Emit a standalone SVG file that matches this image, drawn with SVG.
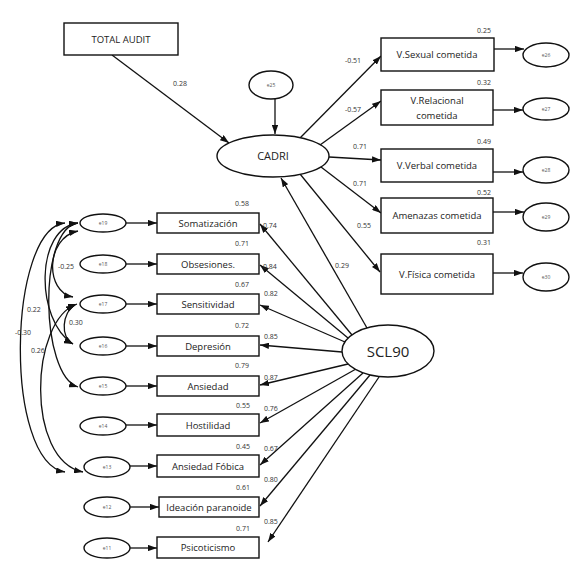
<svg xmlns="http://www.w3.org/2000/svg" width="580" height="568" viewBox="0 0 580 568">
<style>
text{font-family:"Open Sans","Liberation Sans",sans-serif;fill:#222}
.box{fill:#fff;stroke:#111;stroke-width:1.4}
.ell{fill:#fff;stroke:#111;stroke-width:1.4}
.lbl{font-size:9.5px;text-anchor:middle}
.big{font-size:11px;text-anchor:middle}
.scl{font-size:15px;text-anchor:middle}
.e{font-size:5px;text-anchor:middle;fill:#555}
.n{font-size:7px;fill:#333}
.nm{font-size:7px;fill:#333;text-anchor:middle}
.c line,.c path{stroke:#111;stroke-width:1.3;fill:none;marker-end:url(#ah)}
.c path.d{marker-start:url(#ah)}
</style>
<defs>
<marker id="ah" viewBox="0 0 10 7" refX="10" refY="3.5" markerWidth="9" markerHeight="6.3" markerUnits="userSpaceOnUse" orient="auto-start-reverse">
<path d="M0,0 L10,3.5 L0,7 z" fill="#111"/>
</marker>
</defs>

<g id="connectors" class="c">
<line x1="112" y1="55" x2="229" y2="143"/>
<line x1="275" y1="99" x2="275" y2="134"/>
<line x1="300" y1="138" x2="381" y2="56"/>
<line x1="320" y1="145" x2="381" y2="101"/>
<line x1="329" y1="157" x2="381" y2="160"/>
<line x1="321" y1="167" x2="381" y2="213"/>
<line x1="300" y1="174" x2="380" y2="272"/>
<line x1="494" y1="49" x2="524" y2="49"/>
<line x1="493" y1="110" x2="523" y2="110"/>
<line x1="493" y1="172" x2="523" y2="172"/>
<line x1="493" y1="212" x2="524" y2="212"/>
<line x1="493" y1="273" x2="523" y2="273"/>
<line x1="367" y1="328" x2="281" y2="178"/>
<line x1="352" y1="335" x2="260" y2="224"/>
<line x1="348" y1="338" x2="260" y2="265"/>
<line x1="345" y1="342" x2="260" y2="305"/>
<line x1="342" y1="352" x2="260" y2="345"/>
<line x1="348" y1="364" x2="260" y2="385"/>
<line x1="356" y1="369" x2="260" y2="423"/>
<line x1="363" y1="373" x2="260" y2="465"/>
<line x1="370" y1="375" x2="260" y2="506"/>
<line x1="379" y1="377" x2="268" y2="542"/>
<line x1="126" y1="223" x2="157" y2="223"/>
<line x1="126" y1="264" x2="157" y2="264"/>
<line x1="126" y1="304" x2="157" y2="304"/>
<line x1="126" y1="346" x2="157" y2="346"/>
<line x1="126" y1="386" x2="157" y2="386"/>
<line x1="126" y1="425" x2="157" y2="425"/>
<line x1="130" y1="466" x2="157" y2="466"/>
<line x1="130" y1="507" x2="159" y2="507"/>
<line x1="130" y1="548" x2="157" y2="548"/>
<path class="d" d="M65,223 C8,228 3,462 65,472"/>
<path class="d" d="M78,231 C45,238 45,292 73,297"/>
<path class="d" d="M78,223 C35,228 35,320 73,344"/>
<path class="d" d="M78,223 C38,228 40,375 78,387"/>
<path class="d" d="M75,305 C62,312 60,338 73,344"/>
<path class="d" d="M77,304 C30,320 25,460 83,472"/>
</g>

<g id="total_audit"><rect class="box" x="64" y="23" width="114" height="32"/><text class="lbl" x="121" y="43">TOTAL AUDIT</text></g>
<g id="e25"><ellipse class="ell" cx="271" cy="85" rx="22" ry="14"/><text class="e" x="271" y="87">e25</text></g>
<g id="cadri"><ellipse class="ell" cx="273" cy="156" rx="56" ry="21"/><text class="big" x="273" y="160">CADRI</text></g>
<g id="scl90"><ellipse class="ell" cx="388" cy="351" rx="46" ry="26"/><text class="scl" x="388" y="357">SCL90</text></g>

<g id="vsexual"><rect class="box" x="381" y="38" width="113" height="33"/><text class="lbl" x="437" y="58">V.Sexual cometida</text></g>
<g id="vrelacional"><rect class="box" x="381" y="90" width="112" height="35"/><text class="lbl" x="437" y="104">V.Relacional</text><text class="lbl" x="437" y="119">cometida</text></g>
<g id="vverbal"><rect class="box" x="381" y="149" width="112" height="33"/><text class="lbl" x="437" y="169">V.Verbal cometida</text></g>
<g id="amenazas"><rect class="box" x="381" y="198" width="112" height="35"/><text class="lbl" x="437" y="219">Amenazas cometida</text></g>
<g id="vfisica"><rect class="box" x="381" y="254" width="112" height="40"/><text class="lbl" x="437" y="278">V.Física cometida</text></g>

<g id="e26"><ellipse class="ell" cx="546" cy="55" rx="23" ry="12"/><text class="e" x="546" y="57">e26</text></g>
<g id="e27"><ellipse class="ell" cx="546" cy="109" rx="23" ry="11"/><text class="e" x="546" y="111">e27</text></g>
<g id="e28"><ellipse class="ell" cx="546" cy="170" rx="23" ry="13"/><text class="e" x="546" y="172">e28</text></g>
<g id="e29"><ellipse class="ell" cx="546" cy="217" rx="23" ry="14"/><text class="e" x="546" y="219">e29</text></g>
<g id="e30"><ellipse class="ell" cx="546" cy="277" rx="23" ry="14"/><text class="e" x="546" y="279">e30</text></g>

<g id="somatizacion"><rect class="box" x="157" y="213" width="102" height="20"/><text class="lbl" x="208" y="226.5">Somatización</text></g>
<g id="obsesiones"><rect class="box" x="157" y="254" width="102" height="20"/><text class="lbl" x="208" y="267.5">Obsesiones.</text></g>
<g id="sensitividad"><rect class="box" x="157" y="294" width="102" height="20"/><text class="lbl" x="208" y="307.5">Sensitividad</text></g>
<g id="depresion"><rect class="box" x="157" y="336" width="102" height="20"/><text class="lbl" x="208" y="349.5">Depresión</text></g>
<g id="ansiedad"><rect class="box" x="157" y="376" width="102" height="20"/><text class="lbl" x="208" y="389.5">Ansiedad</text></g>
<g id="hostilidad"><rect class="box" x="157" y="414" width="102" height="22"/><text class="lbl" x="208" y="428.5">Hostilidad</text></g>
<g id="ansiedad_fobica"><rect class="box" x="157" y="455" width="102" height="22"/><text class="lbl" x="208" y="469.5">Ansiedad Fóbica</text></g>
<g id="ideacion"><rect class="box" x="159" y="497" width="100" height="20"/><text class="lbl" x="209" y="510.5">Ideación paranoide</text></g>
<g id="psicoticismo"><rect class="box" x="157" y="537" width="102" height="21"/><text class="lbl" x="208" y="551">Psicoticismo</text></g>

<g id="e19"><ellipse class="ell" cx="103" cy="223" rx="23" ry="9"/><text class="e" x="103" y="225">e19</text></g>
<g id="e18"><ellipse class="ell" cx="103" cy="264" rx="23" ry="9"/><text class="e" x="103" y="266">e18</text></g>
<g id="e17"><ellipse class="ell" cx="103" cy="304" rx="23" ry="9"/><text class="e" x="103" y="306">e17</text></g>
<g id="e16"><ellipse class="ell" cx="103" cy="346" rx="23" ry="9"/><text class="e" x="103" y="348">e16</text></g>
<g id="e15"><ellipse class="ell" cx="103" cy="386" rx="23" ry="9"/><text class="e" x="103" y="388">e15</text></g>
<g id="e14"><ellipse class="ell" cx="103" cy="426" rx="23" ry="9"/><text class="e" x="103" y="428">e14</text></g>
<g id="e13"><ellipse class="ell" cx="107" cy="467" rx="23" ry="10"/><text class="e" x="107" y="469">e13</text></g>
<g id="e12"><ellipse class="ell" cx="107" cy="507" rx="23" ry="10"/><text class="e" x="107" y="509">e12</text></g>
<g id="e11"><ellipse class="ell" cx="107" cy="548" rx="23" ry="10"/><text class="e" x="107" y="550">e11</text></g>

<g id="labels">
<text class="nm" x="180" y="86">0.28</text>
<text class="nm" x="484" y="33">0.25</text>
<text class="nm" x="484" y="85">0.32</text>
<text class="nm" x="484" y="144">0.49</text>
<text class="nm" x="484" y="195">0.52</text>
<text class="nm" x="484" y="245">0.31</text>
<text class="nm" x="353" y="63">-0.51</text>
<text class="nm" x="353" y="112">-0.57</text>
<text class="nm" x="360" y="149">0.71</text>
<text class="nm" x="360" y="186">0.71</text>
<text class="nm" x="364" y="228">0.55</text>
<text class="nm" x="342" y="268">0.29</text>
<text class="nm" x="242" y="206">0.58</text>
<text class="nm" x="242" y="246">0.71</text>
<text class="nm" x="242" y="287">0.67</text>
<text class="nm" x="242" y="328">0.72</text>
<text class="nm" x="242" y="368">0.79</text>
<text class="nm" x="243" y="408">0.55</text>
<text class="nm" x="243" y="449">0.45</text>
<text class="nm" x="243" y="490">0.61</text>
<text class="nm" x="243" y="531">0.71</text>
<text class="n" x="263" y="228">0.74</text>
<text class="n" x="263" y="269">0.84</text>
<text class="n" x="264" y="296">0.82</text>
<text class="n" x="264" y="339">0.85</text>
<text class="n" x="264" y="380">0.87</text>
<text class="n" x="264" y="411">0.76</text>
<text class="n" x="264" y="451">0.67</text>
<text class="n" x="264" y="482">0.80</text>
<text class="n" x="264" y="524">0.85</text>
<text class="n" x="58" y="269">-0.25</text>
<text class="n" x="27" y="312">0.22</text>
<text class="n" x="15" y="335">-0.30</text>
<text class="n" x="69" y="325">0.30</text>
<text class="n" x="31" y="353">0.26</text>
</g>
</svg>
